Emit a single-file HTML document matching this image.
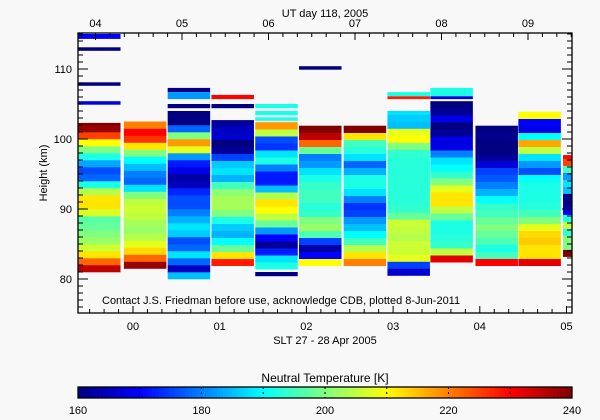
<!DOCTYPE html>
<html><head><meta charset="utf-8"><style>
html,body{margin:0;padding:0;background:#f8f8f8;}
svg{display:block;font-family:"Liberation Sans",sans-serif;}
text{fill:#000;font-size:11px;}
</style></head><body>
<svg id="chart" width="600" height="420" viewBox="0 0 600 420">
<rect x="0" y="0" width="600" height="420" fill="#f8f8f8"/>
<g id="cells"></g>
<g id="axes"></g>
<text x="325" y="17" text-anchor="middle">UT day 118, 2005</text>
<text x="47" y="173" text-anchor="middle" transform="rotate(-90 47 173)">Height (km)</text>
<text x="325" y="344" text-anchor="middle">SLT 27 - 28 Apr 2005</text>
<text x="102" y="304">Contact J.S. Friedman before use, acknowledge CDB, plotted 8-Jun-2011</text>
<text x="325" y="382" text-anchor="middle" font-size="12" style="font-size:12px">Neutral Temperature [K]</text>
<g id="cbar"></g>
</svg>
<script>
// ---- data ----
const colStarts = [-0.634,-0.105,0.40,0.905,1.41,1.915,2.43,2.935,3.43,3.95,4.445,4.96];
const colBottoms = [81.0,81.5,80.0,81.9,81.4,81.9,81.9,80.5,82.4,81.9,81.9,83.2];
const colTops = [102.3,102.7,104.0,102.7,102.4,102.3,101.9,104.0,105.4,101.9,104.0,97.7];
const colTemps = [
 [235,222,212,206,202,200,198,197,207,212,212,204,192,178,176,183,192,200,210,225,238,240],
 [238,222,213,208,204,202,203,205,206,205,200,188,178,180,185,190,200,212,226,230,220],
 [185,165,178,188,178,176,186,188,184,180,176,176,173,165,163,168,172,182,208,218,200,178,160,160],
 [228,212,198,190,184,186,192,200,203,203,201,195,184,188,186,175,162,160,166,165,162],
 [192,188,172,162,170,182,198,205,210,212,204,185,172,172,180,192,188,174,176,205,218],
 [210,170,163,175,196,202,200,194,193,195,195,194,192,188,182,180,198,222,235,240],
 [220,212,204,195,190,185,182,175,174,180,188,192,192,184,178,188,193,195,212,240],
 [166,175,208,206,206,204,205,206,198,194,193,193,193,193,193,193,193,194,200,210,208,185,186,188],
 [232,205,194,193,192,192,198,205,212,212,208,200,194,190,188,180,168,168,162,160,168,162,160],
 [230,195,192,196,198,200,198,195,194,190,184,180,177,175,167,162,160,160,161,160],
 [232,212,212,214,213,208,200,195,193,192,192,192,190,176,182,188,205,217,190,168,170,210],
 [240,200,200,194,205,192,170,162,162,185,188,182,195,225,230]
];
// isolated layers: column index, bottom km, top km, temperature
const extraCols = [0,0,0,0,2,2,2,3,3,4,4,4,4,5,7,7,8,8];
const extraBottoms = [114.3,112.6,107.6,104.9,106.7,105.7,104.4,105.7,104.4,104.4,103.4,102.6,80.4,109.9,106.1,105.7,106.1,105.7];
const extraTops = [115.0,113.1,108.1,105.4,107.3,106.7,105.0,106.3,105.0,105.0,104.0,103.1,81.0,110.4,106.7,106.1,107.3,106.1];
const extraTemps = [170,160,160,168,160,182,160,230,160,192,192,192,160,160,192,228,192,168];
const yTicks = [80,90,100,110];
const xTickLabels = ['00','01','02','03','04','05'];
const topTickLabels = ['04','05','06','07','08','09'];
const cbTicks = [160,180,200,220,240];
const colWidth = 0.49;

// ---- scales ----
const PL=78, PR=572, PT=33, PB=313;
const yS = h => 279 - (h-80)*7;
const xS = t => 133 + t*86.7;
const xTop = u => 95.5 + (u-4)*86.5;
const tMin=160, tMax=240;
function jet(v){
  let t=(v-tMin)/(tMax-tMin); t=Math.max(0,Math.min(1,t));
  const f=x=>Math.max(0,Math.min(1,x));
  const r=f(Math.min(4*t-1.5,-4*t+4.5)), g=f(Math.min(4*t-0.5,-4*t+3.5)), b=f(Math.min(4*t+0.5,-4*t+2.5));
  return `rgb(${Math.round(r*255)},${Math.round(g*255)},${Math.round(b*255)})`;
}
const NS='http://www.w3.org/2000/svg';
function mk(tag,attrs,parent){const e=document.createElementNS(NS,tag);for(const k in attrs)e.setAttribute(k,attrs[k]);parent.appendChild(e);return e;}

const cells=document.getElementById('cells');
colTemps.forEach((temps,c)=>{
  const x0=Math.max(PL,xS(colStarts[c])), x1=Math.min(PR,xS(colStarts[c]+colWidth));
  temps.forEach((v,k)=>{
    const h0=colBottoms[c]+k, h1=Math.min(h0+1,colTops[c]);
    if(h1<=h0) return;
    const r=mk('rect',{x:x0,y:yS(h1),width:x1-x0,height:yS(h0)-yS(h1)+0.3,fill:jet(v)},cells);
    
    
  });
});
extraTemps.forEach((v,i)=>{
  const c=extraCols[i];
  const x0=Math.max(PL,xS(colStarts[c])), x1=Math.min(PR,xS(colStarts[c]+colWidth));
  const r=mk('rect',{x:x0,y:yS(extraTops[i]),width:x1-x0,height:yS(extraBottoms[i])-yS(extraTops[i]),fill:jet(v)},cells);
  
  
});

// ---- axes ----
const ax=document.getElementById('axes');
const frame=mk('rect',{x:PL,y:PT,width:PR-PL,height:PB-PT,fill:'none',stroke:'#000','stroke-width':1.3},ax);


for(let h=76;h<=116;h++){
  const y=yS(h); if(y<PT||y>PB) continue;
  const L=(h%10===0)?10:5;
  mk('line',{x1:PL,x2:PL+L,y1:y,y2:y,stroke:'#000'},ax);
  mk('line',{x1:PR,x2:PR-L,y1:y,y2:y,stroke:'#000'},ax);
}
yTicks.forEach(h=>{
  const t=mk('text',{x:PL-6,y:yS(h)+4,'text-anchor':'end'},ax);
  t.textContent=h;
  
  
});
for(let m=-6;m<=36;m++){
  const x=xS(m/6); if(x<PL||x>PR) continue;
  mk('line',{x1:x,x2:x,y1:PB,y2:PB-(m%6===0?7:4),stroke:'#000'},ax);
}
xTickLabels.forEach((s,i)=>{
  const t=mk('text',{x:xS(i),y:PB+17,'text-anchor':'middle'},ax);
  t.textContent=s;
  
  
});
for(let m=18;m<=60;m++){
  const x=xTop(m/6); if(x<PL||x>PR) continue;
  mk('line',{x1:x,x2:x,y1:PT,y2:PT+(m%6===0?7:4),stroke:'#000'},ax);
}
topTickLabels.forEach((s,i)=>{
  const t=mk('text',{x:xTop(4+i),y:PT-6,'text-anchor':'middle'},ax);
  t.textContent=s;
  
  
});

// ---- colorbar ----
const cb=document.getElementById('cbar');
const cx=v=>78+(v-160)*(572-78)/80;
for(let v=160;v<240;v+=0.5){
  mk('rect',{x:cx(v),y:387,width:cx(v+0.5)-cx(v)+0.3,height:11,fill:jet(v+0.25)},cb);
}
mk('rect',{x:78,y:387,width:494,height:11,fill:'none',stroke:'#000','stroke-width':1.3},cb);
for(let v=170;v<240;v+=10){mk('line',{x1:cx(v),x2:cx(v),y1:387,y2:398,stroke:'#000','stroke-dasharray':'2,3'},cb);}
cbTicks.forEach(v=>{
  const t=mk('text',{x:cx(v),y:414,'text-anchor':'middle'},cb);
  t.textContent=v;
  
  
});
</script>
</body></html>
